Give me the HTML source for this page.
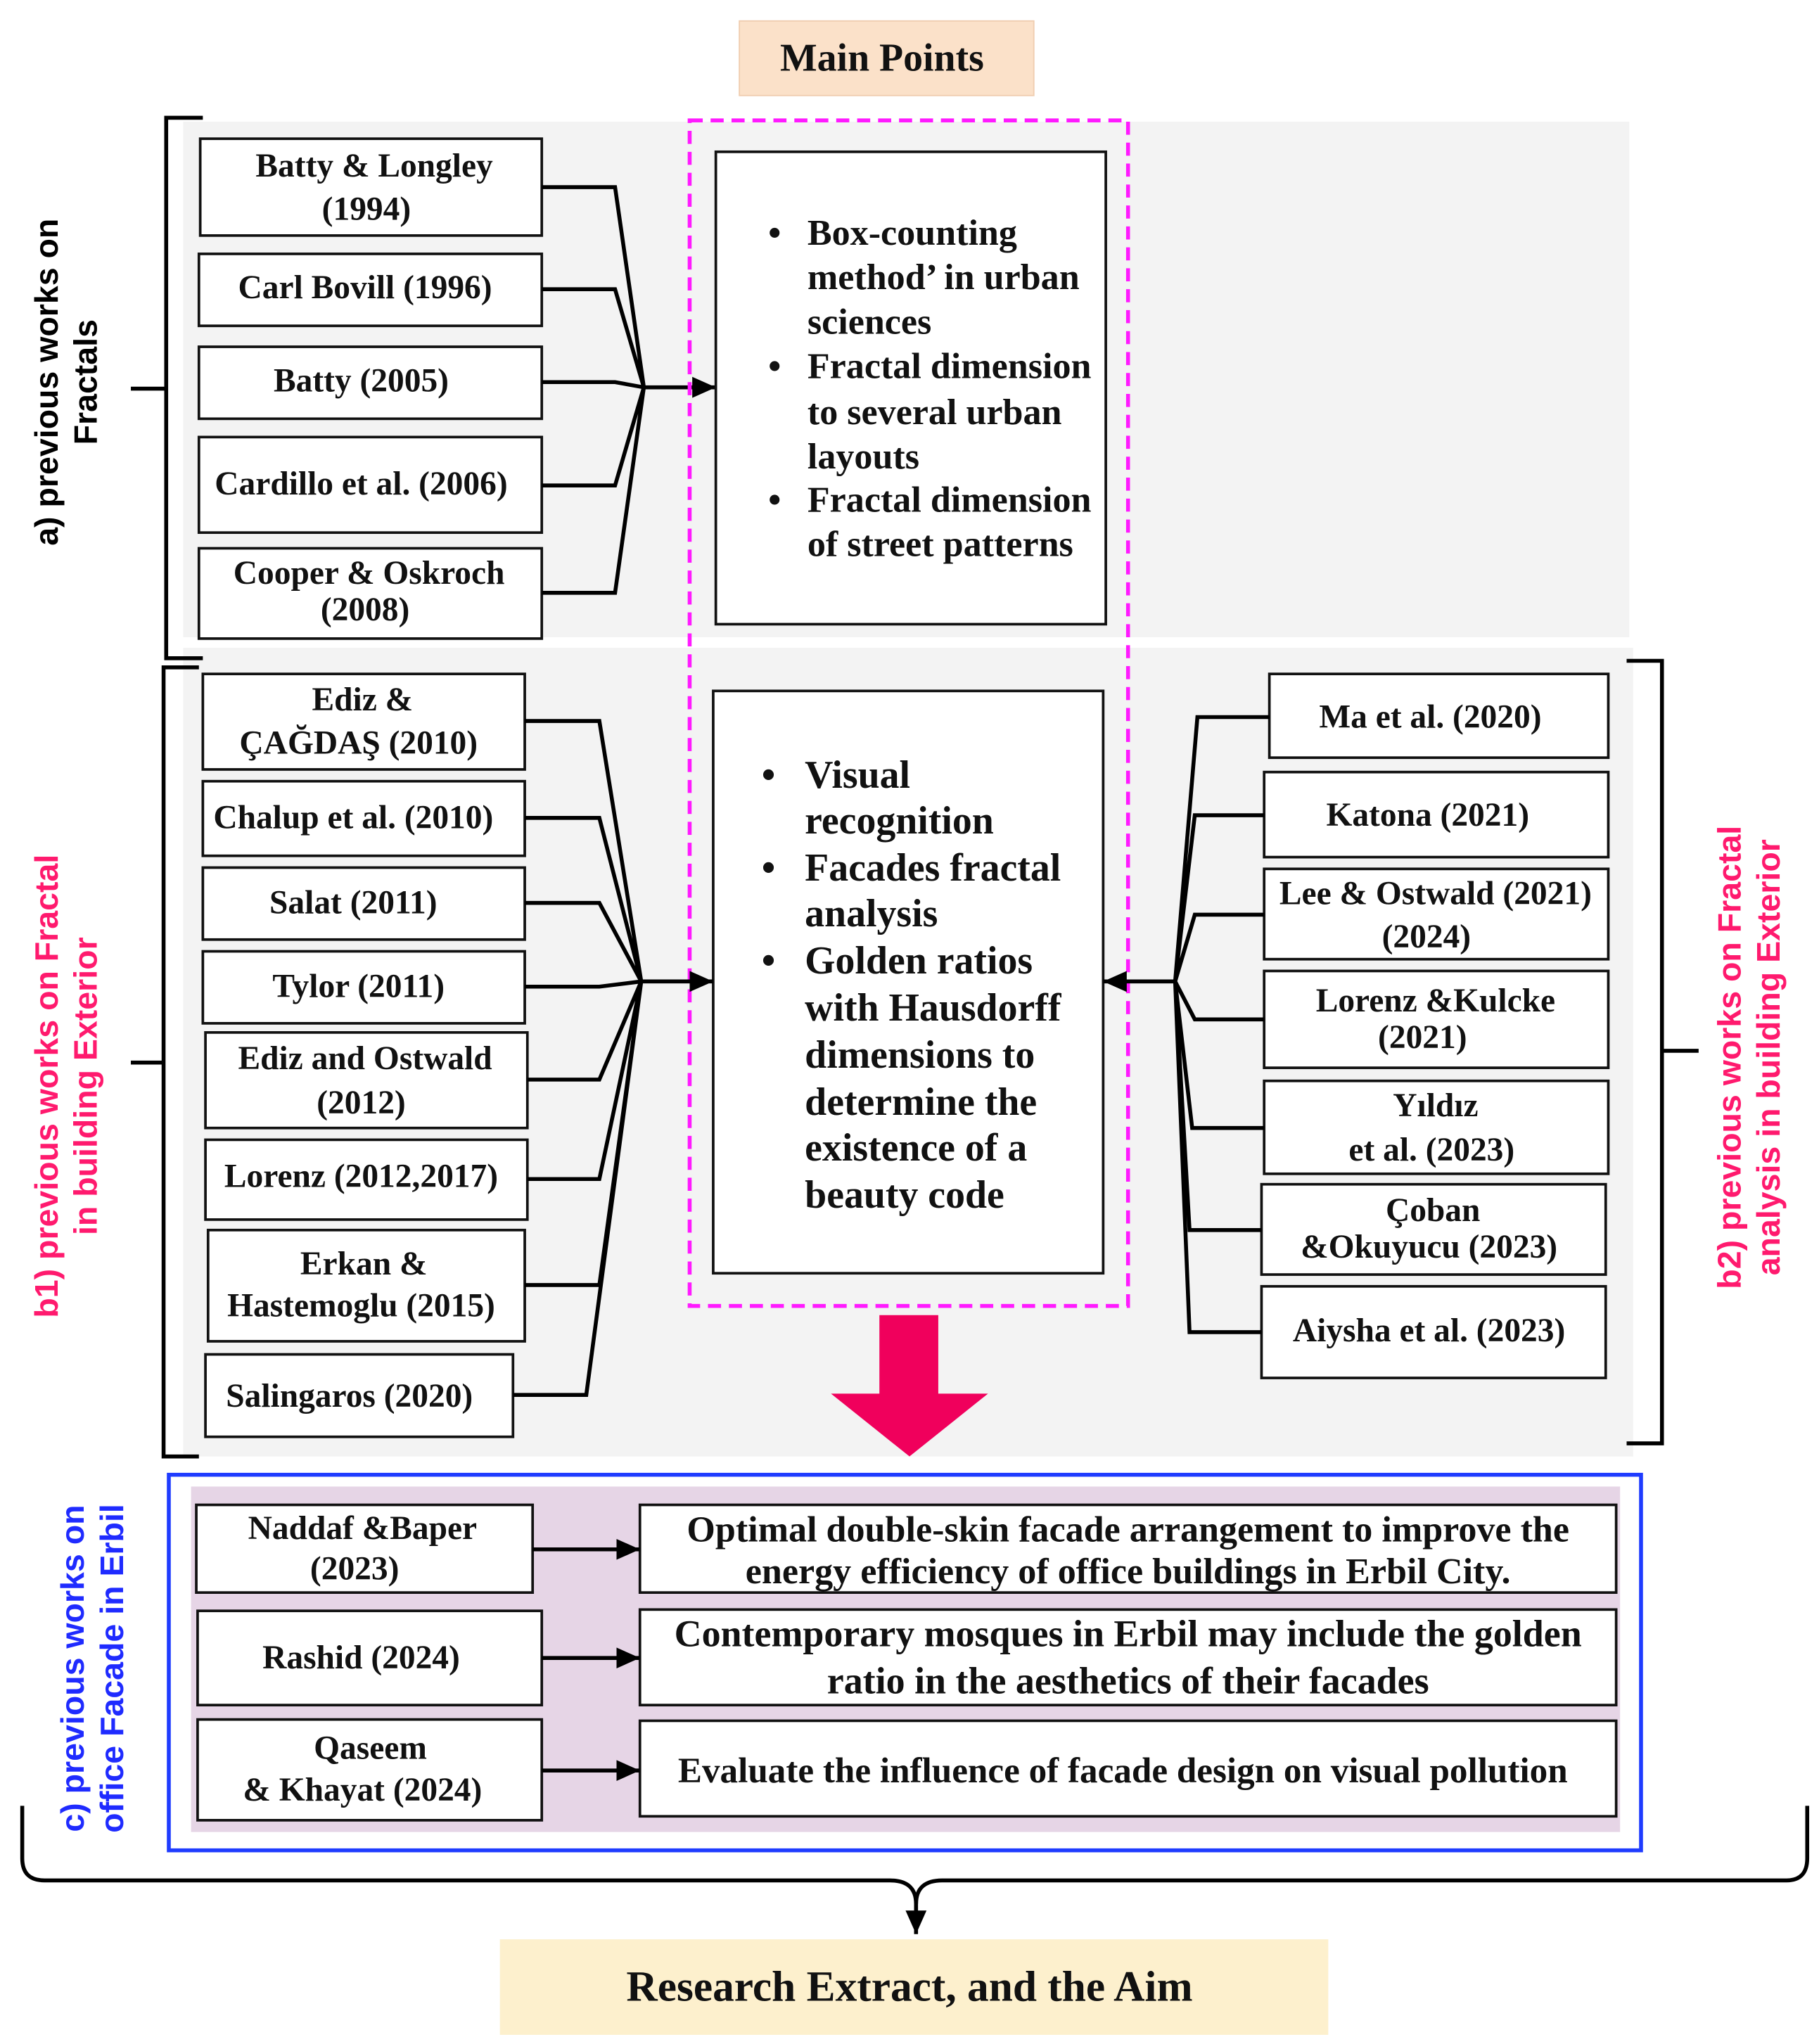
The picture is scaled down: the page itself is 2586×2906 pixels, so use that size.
<!DOCTYPE html>
<html><head><meta charset="utf-8"><style>
html,body{margin:0;padding:0;background:#fff;}
svg{display:block;}
.t{font-family:"Liberation Serif",serif;font-weight:bold;font-size:25.5px;fill:#111;text-anchor:middle;}
.b{font-family:"Liberation Serif",serif;font-weight:bold;font-size:28px;fill:#111;}
.s{font-family:"Liberation Sans",sans-serif;font-weight:bold;font-size:25px;text-anchor:middle;}
.bx{fill:#fff;stroke:#111;stroke-width:2;}
.ln{fill:none;stroke:#000;stroke-width:3;}
</style></head><body>
<svg width="2586" height="2906" viewBox="0 0 1390 1562" xmlns="http://www.w3.org/2000/svg">
<defs>
<marker id="ah2" markerWidth="20" markerHeight="20" refX="18" refY="10" orient="auto" markerUnits="userSpaceOnUse"><path d="M0,2 L18,10 L0,18 z" fill="#000"/></marker></defs>
<rect width="1390" height="1562" fill="#fff"/>
<rect x="140" y="93" width="1105" height="394" fill="#f3f3f3"/>
<rect x="140" y="495" width="1108" height="618" fill="#f3f3f3"/>
<rect x="565" y="16" width="225" height="57" fill="#fbe1c9" stroke="#f0cdb0"/>
<text x="674" y="54" class="t" style="font-size:30px">Main Points</text>
<!-- section a -->
<path class="ln" d="M155,90 H127 V503 H155 M100,297 H127"/>
<text class="s" transform="translate(44,292) rotate(-90)" fill="#000"><tspan x="0" dy="0">a) previous works on</tspan><tspan x="0" dy="30">Fractals</tspan></text>
<g>
<rect class="bx" x="153" y="106" width="261" height="74"/><text class="t" x="286" y="135">Batty &amp; Longley</text><text class="t" x="280" y="168">(1994)</text>
<rect class="bx" x="152" y="194" width="262" height="55"/><text class="t" x="279" y="228">Carl Bovill (1996)</text>
<rect class="bx" x="152" y="265" width="262" height="55"/><text class="t" x="276" y="299">Batty (2005)</text>
<rect class="bx" x="152" y="334" width="262" height="73"/><text class="t" x="276" y="378">Cardillo et al. (2006)</text>
<rect class="bx" x="152" y="419" width="262" height="69"/><text class="t" x="282" y="446">Cooper &amp; Oskroch</text><text class="t" x="279" y="474">(2008)</text>
</g>
<path class="ln" d="M414,143 H470 L492,296 M414,221 H470 L492,296 M414,292 H470 L492,296 M414,371 H470 L492,296 M414,453 H470 L492,296"/>
<path class="ln" d="M492,296 H547" marker-end="url(#ah2)"/>
<rect x="527" y="92" width="335" height="906" fill="none" stroke="#ff1aff" stroke-width="3" stroke-dasharray="10,6"/>
<rect class="bx" x="547" y="116" width="298" height="361"/>
<g class="b">
<text x="587" y="187">•</text><text x="617" y="187">Box-counting</text><text x="617" y="221">method’ in urban</text><text x="617" y="255">sciences</text>
<text x="587" y="289">•</text><text x="617" y="289">Fractal dimension</text><text x="617" y="324">to several urban</text><text x="617" y="358">layouts</text>
<text x="587" y="391">•</text><text x="617" y="391">Fractal dimension</text><text x="617" y="425">of street patterns</text>
</g>
<rect class="bx" x="545" y="528" width="298" height="445"/>
<g class="b" style="font-size:30px">
<text x="582" y="602">•</text><text x="615" y="602">Visual</text><text x="615" y="637">recognition</text>
<text x="582" y="673">•</text><text x="615" y="673">Facades fractal</text><text x="615" y="708">analysis</text>
<text x="582" y="744">•</text><text x="615" y="744">Golden ratios</text><text x="615" y="780">with Hausdorff</text><text x="615" y="816">dimensions to</text><text x="615" y="852">determine the</text><text x="615" y="887">existence of a</text><text x="615" y="923">beauty code</text>
</g>
<path d="M672,1005 H717 V1065 H755 L695,1113 L635,1065 H672 Z" fill="#f0005c"/>
<!-- b1 -->
<path class="ln" d="M152,510 H125 V1113 H152 M100,812 H125"/>
<text class="s" transform="translate(44,830) rotate(-90)" fill="#ff1a6e"><tspan x="0" dy="0">b1) previous works on Fractal</tspan><tspan x="0" dy="30">in building Exterior</tspan></text>
<g>
<rect class="bx" x="155" y="515" width="246" height="73"/><text class="t" x="277" y="543">Ediz &amp;</text><text class="t" x="274" y="576">ÇAĞDAŞ (2010)</text>
<rect class="bx" x="155" y="597" width="246" height="57"/><text class="t" x="270" y="633">Chalup et al. (2010)</text>
<rect class="bx" x="155" y="663" width="246" height="55"/><text class="t" x="270" y="698">Salat (2011)</text>
<rect class="bx" x="155" y="727" width="246" height="55"/><text class="t" x="274" y="762">Tylor (2011)</text>
<rect class="bx" x="157" y="789" width="246" height="73"/><text class="t" x="279" y="817">Ediz and Ostwald</text><text class="t" x="276" y="851">(2012)</text>
<rect class="bx" x="157" y="871" width="246" height="61"/><text class="t" x="276" y="907">Lorenz (2012,2017)</text>
<rect class="bx" x="159" y="940" width="242" height="85"/><text class="t" x="278" y="974">Erkan &amp;</text><text class="t" x="276" y="1006">Hastemoglu (2015)</text>
<rect class="bx" x="157" y="1035" width="235" height="63"/><text class="t" x="267" y="1075">Salingaros (2020)</text>
</g>
<path class="ln" d="M401,551 H458 L490,750 M401,625 H458 L490,750 M401,690 H458 L490,750 M401,754 H458 L490,750 M403,825 H458 L490,750 M403,901 H458 L490,750 M401,982 H458 L490,750 M392,1066 H448 L490,750"/>
<path class="ln" d="M490,750 H545" marker-end="url(#ah2)"/>
<!-- b2 -->
<g>
<rect class="bx" x="970" y="515" width="259" height="64"/><text class="t" x="1093" y="556">Ma et al. (2020)</text>
<rect class="bx" x="966" y="590" width="263" height="65"/><text class="t" x="1091" y="631">Katona (2021)</text>
<rect class="bx" x="966" y="664" width="263" height="69"/><text class="t" x="1097" y="691">Lee &amp; Ostwald (2021)</text><text class="t" x="1090" y="724">(2024)</text>
<rect class="bx" x="966" y="742" width="263" height="74"/><text class="t" x="1097" y="773">Lorenz &amp;Kulcke</text><text class="t" x="1087" y="801">(2021)</text>
<rect class="bx" x="966" y="826" width="263" height="71"/><text class="t" x="1097" y="853">Yıldız</text><text class="t" x="1094" y="887">et al. (2023)</text>
<rect class="bx" x="964" y="905" width="263" height="69"/><text class="t" x="1095" y="933">Çoban</text><text class="t" x="1092" y="961">&amp;Okuyucu (2023)</text>
<rect class="bx" x="964" y="983" width="263" height="70"/><text class="t" x="1092" y="1025">Aiysha et al. (2023)</text>
</g>
<path class="ln" d="M970,548 H915 L898,750 M966,623 H913 L898,750 M966,699 H913 L898,750 M966,779 H913 L898,750 M966,862 H911 L898,750 M964,940 H909 L898,750 M964,1018 H909 L898,750"/>
<path class="ln" d="M898,750 H843" marker-end="url(#ah2)"/>
<path class="ln" d="M1243,505 H1270 V1103 H1243 M1270,803 H1298"/>
<text class="s" transform="translate(1330,808) rotate(-90)" fill="#ff1a6e"><tspan x="0" dy="0">b2) previous works on Fractal</tspan><tspan x="0" dy="30">analysis in building Exterior</tspan></text>
<!-- c -->
<rect x="146" y="1136" width="1092" height="264" fill="#e6d5e6"/>
<rect x="129" y="1127" width="1125" height="287" fill="none" stroke="#1f3cff" stroke-width="3"/>
<text class="s" transform="translate(64,1275) rotate(-90)" fill="#1f2bff"><tspan x="0" dy="0">c) previous works on</tspan><tspan x="0" dy="30">office Facade in Erbil</tspan></text>
<g>
<rect class="bx" x="150" y="1150" width="257" height="67"/><text class="t" x="277" y="1176">Naddaf &amp;Baper</text><text class="t" x="271" y="1207">(2023)</text>
<rect class="bx" x="151" y="1231" width="263" height="72"/><text class="t" x="276" y="1275">Rashid (2024)</text>
<rect class="bx" x="151" y="1314" width="263" height="77"/><text class="t" x="283" y="1344">Qaseem</text><text class="t" x="277" y="1376">&amp; Khayat (2024)</text>
<rect class="bx" x="489" y="1150" width="746" height="67"/><text class="t" x="862" y="1178" style="font-size:28px">Optimal double-skin facade arrangement to improve the</text><text class="t" x="862" y="1210" style="font-size:28px">energy efficiency of office buildings in Erbil City.</text>
<rect class="bx" x="489" y="1230" width="746" height="73"/><text class="t" x="862" y="1258" style="font-size:29px">Contemporary mosques in Erbil may include the golden</text><text class="t" x="862" y="1294" style="font-size:29px">ratio in the aesthetics of their facades</text>
<rect class="bx" x="489" y="1315" width="746" height="73"/><text class="t" x="858" y="1362" style="font-size:27.5px">Evaluate the influence of facade design on visual pollution</text>
</g>
<path class="ln" d="M407,1184 H489" marker-end="url(#ah2)"/>
<path class="ln" d="M414,1267 H489" marker-end="url(#ah2)"/>
<path class="ln" d="M414,1353 H489" marker-end="url(#ah2)"/>
<path class="ln" d="M17,1380 V1420 Q17,1437 34,1437 H680 Q700,1437 700,1455 Q700,1437 720,1437 H1365 Q1381,1437 1381,1420 V1380"/>
<path class="ln" d="M700,1450 V1478" marker-end="url(#ah2)"/>
<rect x="382" y="1482" width="633" height="73" fill="#fdf0cd"/>
<text class="t" x="695" y="1529" style="font-size:33px">Research Extract, and the Aim</text>
</svg>
</body></html>
